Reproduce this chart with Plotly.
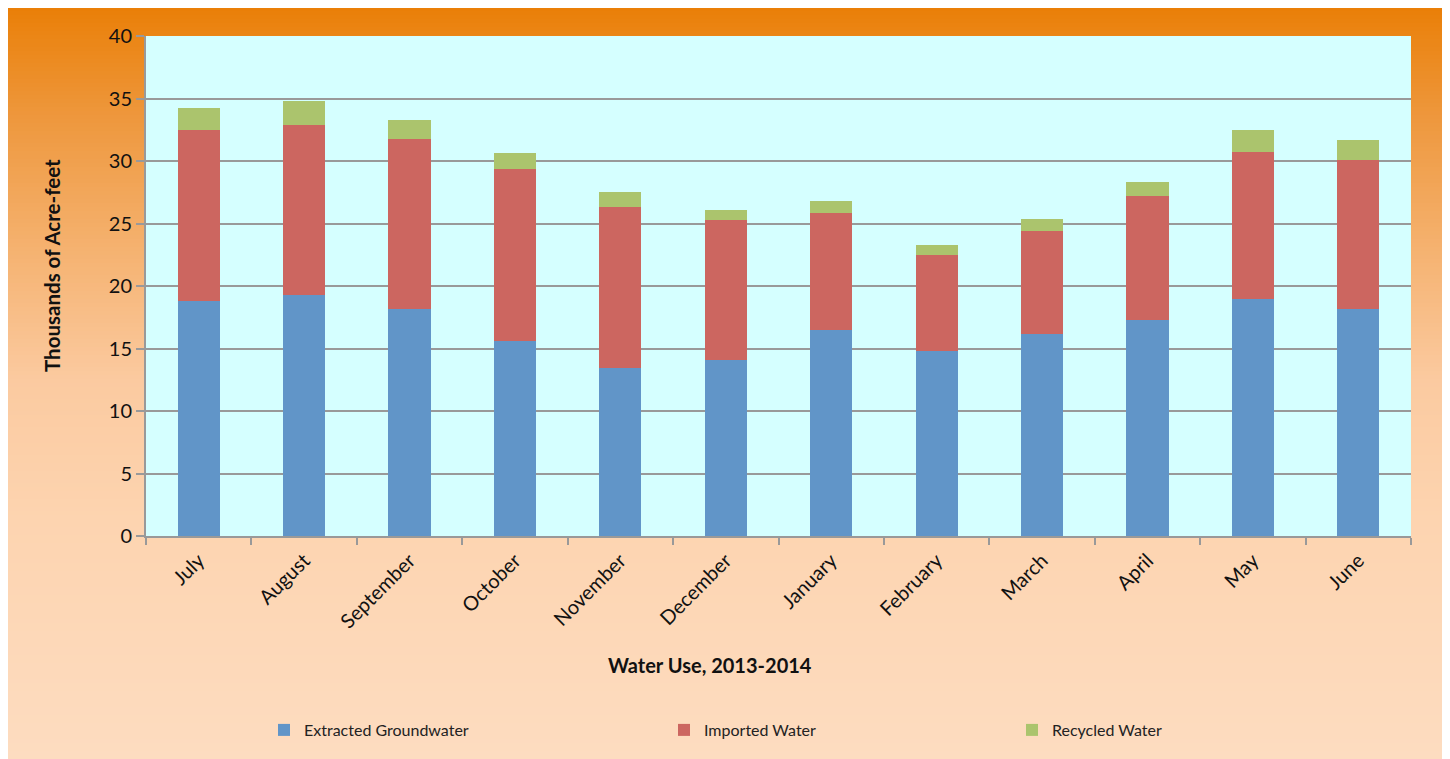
import plotly.graph_objects as go

months = ["July", "August", "September", "October", "November", "December",
          "January", "February", "March", "April", "May", "June"]
groundwater = [18.8, 19.3, 18.15, 15.6, 13.45, 14.1, 16.45, 14.8, 16.15, 17.25, 19.0, 18.2]
imported = [13.7, 13.6, 13.6, 13.75, 12.85, 11.2, 9.4, 7.7, 8.25, 9.95, 11.7, 11.9]
recycled = [1.75, 1.9, 1.5, 1.3, 1.2, 0.8, 0.95, 0.8, 0.95, 1.1, 1.75, 1.6]

series_names = ["Extracted Groundwater", "Imported Water", "Recycled Water"]
series_colors = ["#6195C8", "#CC6660", "#ABC46D"]

OFF = 8  # page body margin
W, H = 1442, 751
L, R, T, B = 146 - OFF, 1411 - OFF, 36 - OFF, 536 - OFF


def px_x(x):
    return (x - OFF - L) / (R - L)


def px_y(y):
    return (B - (y - OFF)) / (B - T)


fig = go.Figure()
for name, vals, col, lg in zip(series_names, [groundwater, imported, recycled], series_colors,
                               ["legend", "legend2", "legend3"]):
    fig.add_trace(go.Bar(x=months, y=vals, name=name, marker_color=col,
                         marker_line_width=0, legend=lg, showlegend=True))

# gradient background bands (styling)
stops = [(7, (234, 127, 7)), (120, (238, 152, 62)), (250, (245, 178, 112)),
         (380, (251, 202, 160)), (520, (253, 212, 176)), (760, (253, 220, 192))]


def col_at(y):
    for (y0, c0), (y1, c1) in zip(stops[:-1], stops[1:]):
        if y0 <= y <= y1:
            t = (y - y0) / (y1 - y0)
            return "rgb(%d,%d,%d)" % tuple(round(a + (b - a) * t) for a, b in zip(c0, c1))
    return "rgb(%d,%d,%d)" % stops[-1][1]


shapes = []
step = 4
y = 7
while y < 760:
    y2 = min(y + step, 760)
    shapes.append(dict(type="rect", xref="paper", yref="paper", layer="below",
                       x0=px_x(7), x1=px_x(1445), y0=px_y(y2), y1=px_y(y),
                       fillcolor=col_at(y + step / 2), line_width=0))
    y = y2
# plot area background
shapes.append(dict(type="rect", xref="paper", yref="paper", layer="below",
                   x0=0, x1=1, y0=0, y1=1, fillcolor="#D5FFFF", line_width=0))
# right edge shadow line
shapes.append(dict(type="rect", xref="paper", yref="paper", layer="below",
                   x0=px_x(1445), x1=px_x(1447), y0=px_y(760), y1=px_y(7),
                   fillcolor="#9A9A9A", line_width=0))

font = "Lato, 'Open Sans', sans-serif"

legend_common = dict(orientation="h", yanchor="middle", y=px_y(730), xanchor="left",
                     font=dict(family=font, size=16, color="#222"),
                     bgcolor="rgba(0,0,0,0)", itemwidth=30)

fig.update_layout(
    width=W, height=H,
    margin=dict(l=L, r=W - R, t=T, b=H - B),
    paper_bgcolor="white",
    plot_bgcolor="rgba(0,0,0,0)",
    barmode="stack",
    bargap=0.6,
    showlegend=True,
    shapes=shapes,
    legend=dict(x=px_x(264), **legend_common),
    legend2=dict(x=px_x(664), **legend_common),
    legend3=dict(x=px_x(1012), **legend_common),
    xaxis=dict(
        tickangle=-45, tickfont=dict(family=font, size=20, color="#111"),
        ticklabelstandoff=3,
        showline=True, linecolor="#999", linewidth=2,
        ticks="outside", tickson="boundaries", ticklen=7, tickcolor="#999", tickwidth=2,
        showgrid=False,
    ),
    yaxis=dict(
        range=[0, 40], dtick=5, tickfont=dict(family=font, size=20, color="#111"),
        showline=True, linecolor="#999", linewidth=2,
        ticks="outside", ticklen=8, tickcolor="#999", tickwidth=2,
        showgrid=True, gridcolor="#999", gridwidth=2, zeroline=False,
    ),
    annotations=[
        dict(text="<b>Water Use, 2013-2014</b>", xref="paper", yref="paper",
             x=px_x(710), y=px_y(665), xanchor="center", yanchor="middle", showarrow=False,
             font=dict(family=font, size=20, color="#111")),
        dict(text="<b>Thousands of Acre-feet</b>", xref="paper", yref="paper",
             x=px_x(52), y=px_y(266), xanchor="center", yanchor="middle", showarrow=False,
             textangle=-90, font=dict(family=font, size=20.5, color="#111")),
    ],
)

fig.write_html("out.html")
